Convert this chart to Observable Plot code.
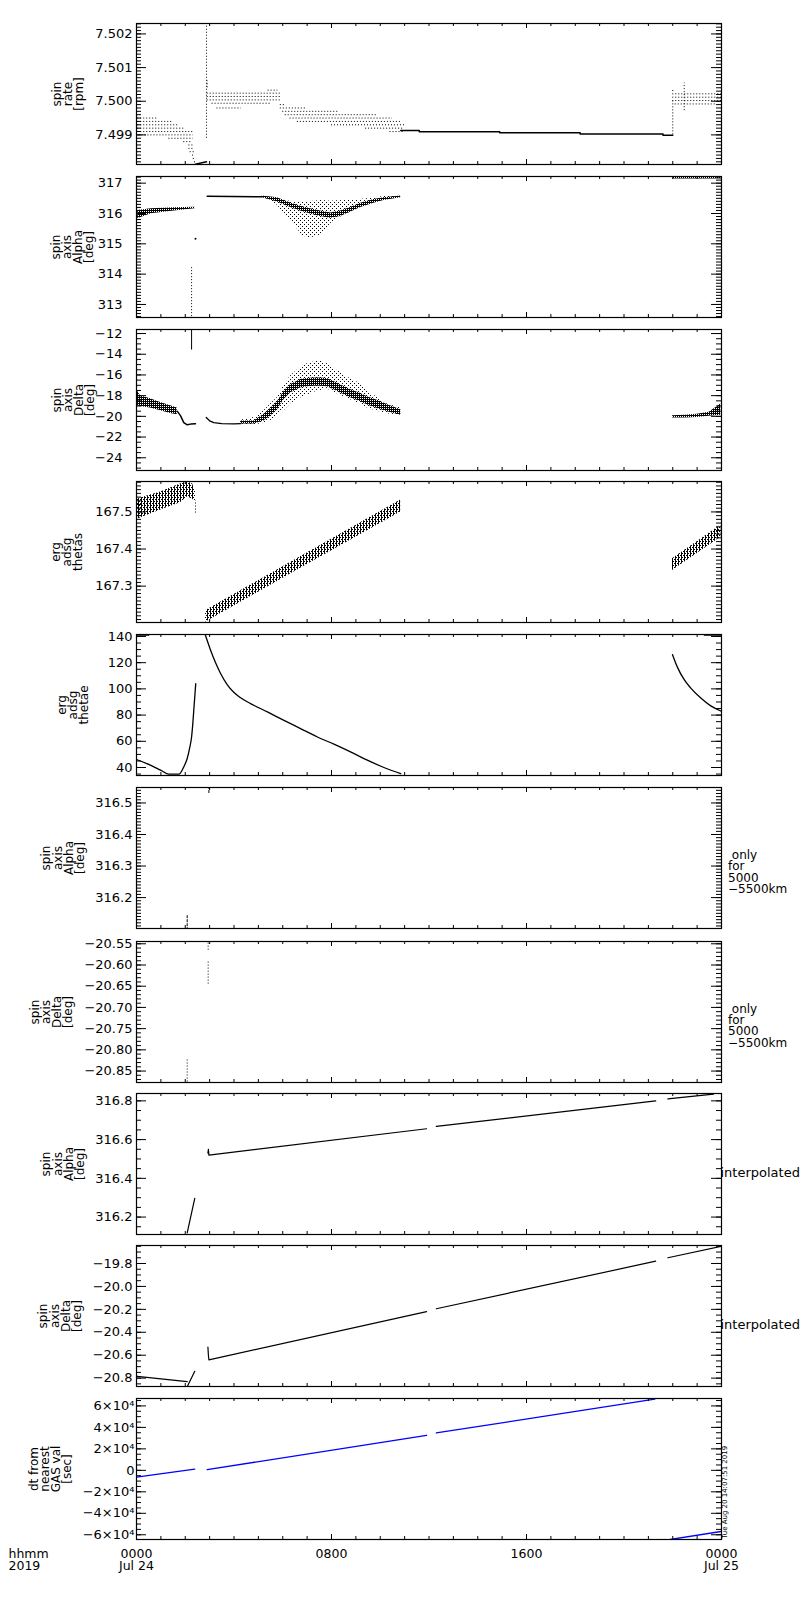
<!DOCTYPE html>
<html><head><meta charset="utf-8">
<script src="https://cdn.jsdelivr.net/npm/d3@7"></script>
<script src="https://cdn.jsdelivr.net/npm/@observablehq/plot@0.6"></script>
<style>
body{margin:0;background:#fff;}
#wrap{position:relative;width:800px;height:1600px;}
</style></head><body>
<svg width="0" height="0" style="position:absolute">
<defs>
<pattern id="sparse" width="4" height="4" patternUnits="userSpaceOnUse">
<rect x="0" y="0" width="1" height="1" fill="#000"/><rect x="2" y="2" width="1" height="1" fill="#000"/>
</pattern>
<pattern id="dense" width="2" height="2" patternUnits="userSpaceOnUse">
<rect x="0" y="0" width="1" height="1" fill="#000"/><rect x="1" y="1" width="1" height="1" fill="#000"/><rect x="1" y="0" width="1" height="1" fill="#000"/>
</pattern>
<pattern id="hatch" width="3" height="4" patternUnits="userSpaceOnUse">
<rect x="0" y="0" width="1" height="4" fill="#000"/><rect x="1" y="0" width="1" height="1" fill="#000"/><rect x="2" y="2" width="1" height="1" fill="#000"/>
</pattern>
</defs></svg>
<div id="wrap"></div>
<script>
// ---------- shared time axis (hours after 0000 Jul 24 2019) ----------
const hoursMajor = [0, 8, 16, 24];
const hoursMinor = [0,1,2,3,4,5,6,7,8,9,10,11,12,13,14,15,16,17,18,19,20,21,22,23,24];
const hourTickLabels = ["0000\nJul 24", "0800", "1600", "0000\nJul 25"];
const dateLabel = "hhmm\n2019";
const stampText = "Tue Aug 20 14:07:51 2019";

// ---------- panel 1: spin rate ----------
const rateLabel = "spin\nrate\n[rpm]";
const rateDomain = [7.49812, 7.50231];
const rateTicks = [7.499, 7.500, 7.501, 7.502];
const rateLevelValue = [7.4995,7.4994,7.4993,7.4992,7.4991,7.4990,7.4989,7.4988,7.4987,7.4986,7.4985,7.4984,7.4983,7.4982,
  7.50033,7.50024,7.50014,7.50004,7.49994,7.4999,7.4998,7.4998,7.4997,7.4996,7.4995,7.4994,7.4993,7.4992,7.4991,
  7.50032,7.50022,7.50012,7.50002,7.49992];
const rateLevelStart = [0.05,0.05,0.05,0.05,0.05,0.1,1.33,1.94,2.15,2.15,2.2,2.3,2.33,2.38,
  5.4,2.9,2.9,2.9,3.1,5.9,3.3,5.9,6.0,6.1,6.3,6.6,8.0,9.4,10.4,
  22.0,22.0,22.0,22.0,22.1];
const rateLevelEnd = [0.85,1.47,1.74,1.94,2.33,2.33,2.33,2.3,2.35,2.38,2.4,2.4,2.42,2.45,
  5.8,5.9,5.9,5.9,5.5,6.1,4.3,7.0,8.3,9.9,10.5,10.9,11.0,11.0,11.0,
  22.1,24,24,24,23.8];
const rateLowHour = [2.42, 2.87];
const rateLowValue = [7.49813, 7.4982];
const rateStepHour = [10.84, 11.6, 14.9, 18.2, 21.6, 22.0];
const rateStepValue = [7.49913, 7.49909, 7.49906, 7.49903, 7.49899, 7.49899];
const rateSpikeHour = [2.87, 2.9, 22.0, 22.47];
const rateSpikeLow = [7.4989, 7.5004, 7.4990, 7.49972];
const rateSpikeHigh = [7.5025, 7.5006, 7.5000, 7.50054];

// ---------- panel 2: spin axis alpha ----------
const alphaLabel = "spin\naxis\nAlpha\n[deg]";
const alphaDomain = [312.57, 317.22];
const alphaTicks = [313, 314, 315, 316, 317];
const alphaLeftHour = [0.05, 0.6, 1.55, 2.4];
const alphaLeftLow = [315.83, 315.99, 316.08, 316.16];
const alphaLeftHigh = [316.10, 316.16, 316.19, 316.21];
const alphaDotHour = [2.42];
const alphaDotValue = [315.17];
const alphaDropHour = [2.26];
const alphaDropLow = [312.4];
const alphaDropHigh = [314.25];
const alphaFlatHour = [2.9, 5.16];
const alphaFlatValue = [316.57, 316.55];
const alphaCloudHour = [5.16,5.5,5.78,6.05,6.32,6.59,6.8,7.0,7.28,7.55,7.76,7.96,8.24,8.65,9.06,9.47,10.15,10.84];
const alphaCloudHigh = [316.56,316.53,316.50,316.43,316.40,316.38,316.38,316.39,316.40,316.43,316.42,316.40,316.42,316.43,316.45,316.49,316.56,316.6];
const alphaCloudLow = [316.54,316.43,316.27,315.99,315.77,315.5,315.28,315.2,315.22,315.28,315.44,315.66,315.83,315.99,316.21,316.32,316.49,316.56];
const alphaCoreHour = [5.16,5.78,6.32,6.73,7.14,7.55,7.96,8.37,8.78,9.2,9.74,10.15,10.84];
const alphaCoreLow = [316.52,316.38,316.2,316.08,315.98,315.9,315.84,315.9,316.04,316.2,316.34,316.43,316.52];
const alphaCoreHigh = [316.58,316.52,316.35,316.24,316.16,316.08,316.02,316.08,316.2,316.34,316.46,316.52,316.58];
const alphaRightHour = [22.0, 24];
const alphaRightLow = [317.14, 317.14];
const alphaRightHigh = [317.25, 317.25];

// ---------- panel 3: spin axis delta ----------
const deltaLabel = "spin\naxis\nDelta\n[deg]";
const deltaDomain = [-25.23, -11.61];
const deltaTicks = [-24, -22, -20, -18, -16, -14, -12];
const deltaLeftHour = [0.03, 0.16, 0.57, 0.99, 1.4, 1.67];
const deltaLeftHigh = [-17.5, -18.0, -18.3, -18.65, -18.97, -19.2];
const deltaLeftLow = [-19.0, -19.05, -19.2, -19.46, -19.72, -19.85];
const deltaDropHour = [1.67, 1.81, 1.94, 2.08, 2.22, 2.42];
const deltaDropValue = [-19.5, -19.95, -20.6, -20.82, -20.75, -20.72];
const deltaSpikeHour = [2.26];
const deltaSpikeLow = [-13.6];
const deltaSpikeHigh = [-11.4];
const deltaMidHour = [2.86, 3.0, 3.17, 3.5, 4.0, 4.27];
const deltaMidValue = [-20.11, -20.43, -20.6, -20.7, -20.72, -20.7];
const deltaCloudHour = [4.27,4.82,5.23,5.5,5.78,6.05,6.32,6.73,7.0,7.28,7.55,7.83,8.1,8.37,8.78,9.2,9.47,9.88,10.29,10.84];
const deltaCloudHigh = [-20.37,-20.11,-19.46,-18.81,-18.17,-17.0,-16.1,-15.25,-14.92,-14.76,-14.6,-14.92,-15.4,-15.73,-16.38,-16.86,-17.52,-18.17,-18.81,-19.2];
const deltaCloudLow = [-20.76,-20.82,-20.69,-20.43,-19.95,-19.46,-18.81,-18.23,-17.95,-17.68,-17.5,-17.35,-17.68,-17.95,-18.4,-18.8,-19.2,-19.5,-19.75,-19.95];
const deltaCoreLow = [-20.75,-20.75,-20.45,-20.0,-19.35,-18.4,-17.75,-17.25,-17.15,-17.1,-17.1,-17.15,-17.43,-17.75,-18.2,-18.6,-18.9,-19.25,-19.55,-19.9];
const deltaCoreHigh = [-20.45,-20.45,-19.8,-19.25,-18.6,-17.6,-16.95,-16.45,-16.35,-16.3,-16.3,-16.35,-16.63,-16.95,-17.4,-17.8,-18.1,-18.45,-18.85,-19.35];
const deltaRightHour = [21.99, 22.5, 23.0, 23.5, 23.97];
const deltaRightHigh = [-19.95, -19.9, -19.8, -19.6, -18.8];
const deltaRightLow = [-20.17, -20.15, -20.1, -20.0, -19.9];

// ---------- panel 4: erg adsg thetas ----------
const thetasLabel = "erg\nadsg\nthetas";
const thetasDomain = [167.202, 167.582];
const thetasTicks = [167.3, 167.4, 167.5];
const thetasLeftHour = [0.03, 0.99, 1.8, 2.08, 2.3, 2.42];
const thetasLeftHigh = [167.535, 167.554, 167.575, 167.582, 167.575, 167.555];
const thetasLeftLow = [167.48, 167.505, 167.525, 167.54, 167.535, 167.525];
const thetasTailHour = [2.42];
const thetasTailLow = [167.497];
const thetasTailHigh = [167.53];
const thetasMainHour = [2.83, 6.73, 10.84];
const thetasMainHigh = [167.234, 167.379, 167.532];
const thetasMainLow = [167.203, 167.348, 167.5];
const thetasRightHour = [21.99, 23.97];
const thetasRightHigh = [167.374, 167.464];
const thetasRightLow = [167.342, 167.432];

// ---------- panel 5: erg adsg thetae ----------
const thetaeLabel = "erg\nadsg\nthetae";
const thetaeDomain = [33.9, 141.5];
const thetaeTicks = [40, 60, 80, 100, 120, 140];
const thetaeHour = [0, 0.5,
  0,0.57,0.99,1.33,1.74,1.94,2.08,2.19,2.26,2.31,2.35,2.39,2.43,
  2.83,3.04,3.24,3.45,3.72,3.99,4.24,4.68,5.37,6.05,6.73,7.42,8.1,8.78,9.47,10.15,10.84,
  21.99,22.19,22.47,22.74,23.15,23.56,23.97,
  23.3, 24];
const thetaeValue = [141.0, 141.0,
  46.1,41.8,38.0,34.9,34.9,40.5,46.9,55.7,63.3,73.5,83.7,93.8,104,
  140.8,129.5,120.1,111.7,103.3,97.4,93.6,88.8,82.4,76.0,69.7,63.3,57.8,51.9,45.6,40.0,35.3,
  126.1,116.6,107.0,100.6,93.0,87.0,83.1,
  141.0, 141.0];
const thetaeSeg = [0,0, 1,1,1,1,1,1,1,1,1,1,1,1,1, 2,2,2,2,2,2,2,2,2,2,2,2,2,2,2,2,2, 3,3,3,3,3,3,3, 4,4];

// ---------- panel 6: alpha 5000-5500 km ----------
const alphaRangeLabel = "spin\naxis\nAlpha\n[deg]";
const alphaRangeDomain = [316.102, 316.549];
const alphaRangeTicks = [316.2, 316.3, 316.4, 316.5];
const alphaRangeHour = [2.97, 2.08];
const alphaRangeLow = [316.53, 316.095];
const alphaRangeHigh = [316.56, 316.143];
const rangeNote = "\u00a0only\nfor\n5000\n\u22125500km";

// ---------- panel 7: delta 5000-5500 km ----------
const deltaRangeLabel = "spin\naxis\nDelta\n[deg]";
const deltaRangeDomain = [-20.877, -20.5446];
const deltaRangeTicks = [-20.85, -20.80, -20.75, -20.70, -20.65, -20.60, -20.55];
const deltaRangeHour = [2.94, 2.94, 2.08];
const deltaRangeLow = [-20.565, -20.645, -20.89];
const deltaRangeHigh = [-20.54, -20.59, -20.822];

// ---------- panel 8: interpolated alpha ----------
const interpAlphaLabel = "spin\naxis\nAlpha\n[deg]";
const interpAlphaDomain = [316.11, 316.838];
const interpAlphaTicks = [316.2, 316.4, 316.6, 316.8];
const interpAlphaHour = [2.08, 2.39, 2.93, 2.95, 2.97, 11.9, 12.3, 21.3, 21.8, 23.67];
const interpAlphaValue = [316.118, 316.297, 316.53, 316.55, 316.52, 316.656, 316.668, 316.80, 316.81, 316.835];
const interpAlphaSeg = [0,0,1,1,1,1,2,2,3,3];
const interpNote = "interpolated";

// ---------- panel 9: interpolated delta ----------
const interpDeltaLabel = "spin\naxis\nDelta\n[deg]";
const interpDeltaDomain = [-20.873, -19.643];
const interpDeltaTicks = [-20.8, -20.6, -20.4, -20.2, -20.0, -19.8];
const interpDeltaHour = [0.03, 2.08, 2.08, 2.39, 2.93, 2.95, 2.97, 11.9, 12.3, 21.3, 21.8, 24];
const interpDeltaValue = [-20.785, -20.83, -20.875, -20.74, -20.53, -20.6, -20.64, -20.22, -20.195, -19.78, -19.75, -19.65];
const interpDeltaSeg = [0,0,1,1,2,2,2,2,3,3,4,4];

// ---------- panel 10: dt from nearest GAS value ----------
const dtLabel = "dt from\nnearest\nGAS val\n[sec]";
const dtDomain = [-64400, 66900];
const dtTicks = [-60000, -40000, -20000, 0, 20000, 40000, 60000];
const dtHour = [0, 2.39, 2.9, 11.9, 12.3, 21.26, 21.9, 24];
const dtValue = [-6250, 1200, 650, 32650, 34800, 66300, -64400, -56900];
const dtSeg = [0,0,1,1,2,2,3,3];

// ---------- drawing ----------
const wrap = document.getElementById("wrap");
const W = 800, ML = 136, MR = 79, FH = 141, FW = W - ML - MR;
const FONT = "DejaVu Sans, sans-serif";
const num = (p) => d3.format("." + p + "f");
const dotted = {stroke: "black", strokeWidth: 1, strokeDasharray: "1,2", clip: true};

function panel({top, domain, ticks, minor, fmt, pad, label, labelX, marks, mb = 4, extra = []}) {
  const mt = 4;
  const lo = Math.ceil(domain[0] / minor - 1e-6), hi = Math.floor(domain[1] / minor + 1e-6);
  const minorTicks = d3.range(lo, hi + 1).map(i => i * minor);
  const svg = Plot.plot({
    width: W, height: FH + mt + mb,
    marginLeft: ML, marginRight: MR, marginTop: mt, marginBottom: mb,
    x: {domain: [0, 24], axis: extra.hasX ? undefined : null},
    y: {domain},
    style: {fontFamily: FONT, fontSize: "13px", color: "black", background: "transparent", overflow: "visible"},
    marks: [
      ...marks,
      Plot.tickX(hoursMinor, {x: d => d, insetTop: FH - 3, stroke: "black"}),
      Plot.tickX(hoursMajor, {x: d => d, insetTop: FH - 5, stroke: "black"}),
      Plot.tickX(hoursMinor, {x: d => d, insetBottom: FH - 3, stroke: "black"}),
      Plot.tickX(hoursMajor, {x: d => d, insetBottom: FH - 5, stroke: "black"}),
      Plot.tickY(minorTicks, {y: d => d, insetRight: FW - 5, stroke: "black"}),
      Plot.tickY(ticks, {y: d => d, insetRight: FW - 10, stroke: "black"}),
      Plot.tickY(minorTicks, {y: d => d, insetLeft: FW - 5, stroke: "black"}),
      Plot.tickY(ticks, {y: d => d, insetLeft: FW - 10, stroke: "black"}),
      Plot.axisY(ticks, {tickSize: 0, tickPadding: pad, tickFormat: fmt, label: null, fontSize: 13}),
      Plot.text([label], {frameAnchor: "left", dx: labelX - ML, rotate: -90, lineHeight: 0.92, fontSize: 12, textAnchor: "middle", lineAnchor: "middle"}),
      Plot.frame({stroke: "black", strokeWidth: 1.2}),
      ...(extra.marks || [])
    ]
  });
  svg.style.position = "absolute";
  svg.style.left = "0px";
  svg.style.top = (top - mt) + "px";
  wrap.appendChild(svg);
}

// 1
panel({top: 23, domain: rateDomain, ticks: rateTicks, minor: 0.0001, fmt: num(3), pad: 4, label: rateLabel, labelX: 68,
  marks: [
    Plot.ruleY(rateLevelValue, {y: rateLevelValue, x1: rateLevelStart, x2: rateLevelEnd, ...dotted}),
    Plot.line(rateLowHour, {x: rateLowHour, y: rateLowValue, stroke: "black", clip: true}),
    Plot.line(rateStepHour, {x: rateStepHour, y: rateStepValue, stroke: "black", curve: "step-after", clip: true}),
    Plot.ruleX(rateSpikeHour, {x: rateSpikeHour, y1: rateSpikeLow, y2: rateSpikeHigh, ...dotted})
  ]});
// 2
panel({top: 176, domain: alphaDomain, ticks: alphaTicks, minor: 0.1, fmt: num(0), pad: 14, label: alphaLabel, labelX: 72.5,
  marks: [
    Plot.areaY(alphaLeftHour, {x: alphaLeftHour, y1: alphaLeftLow, y2: alphaLeftHigh, fill: "url(#dense)", clip: true}),
    Plot.dot(alphaDotHour, {x: alphaDotHour, y: alphaDotValue, r: 1, fill: "black", stroke: null}),
    Plot.ruleX(alphaDropHour, {x: alphaDropHour, y1: alphaDropLow, y2: alphaDropHigh, ...dotted}),
    Plot.line(alphaFlatHour, {x: alphaFlatHour, y: alphaFlatValue, stroke: "black", strokeWidth: 1.5, clip: true}),
    Plot.areaY(alphaCloudHour, {x: alphaCloudHour, y1: alphaCloudLow, y2: alphaCloudHigh, fill: "url(#sparse)", clip: true}),
    Plot.areaY(alphaCoreHour, {x: alphaCoreHour, y1: alphaCoreLow, y2: alphaCoreHigh, fill: "url(#dense)", clip: true}),
    Plot.areaY(alphaRightHour, {x: alphaRightHour, y1: alphaRightLow, y2: alphaRightHigh, fill: "url(#dense)", clip: true})
  ]});
// 3
panel({top: 329, domain: deltaDomain, ticks: deltaTicks, minor: 0.5, fmt: num(0), pad: 14, label: deltaLabel, labelX: 73.5,
  marks: [
    Plot.areaY(deltaLeftHour, {x: deltaLeftHour, y1: deltaLeftLow, y2: deltaLeftHigh, fill: "url(#dense)", clip: true}),
    Plot.line(deltaDropHour, {x: deltaDropHour, y: deltaDropValue, stroke: "black", clip: true}),
    Plot.ruleX(deltaSpikeHour, {x: deltaSpikeHour, y1: deltaSpikeLow, y2: deltaSpikeHigh, stroke: "black", clip: true}),
    Plot.line(deltaMidHour, {x: deltaMidHour, y: deltaMidValue, stroke: "black", strokeWidth: 1.3, clip: true}),
    Plot.areaY(deltaCloudHour, {x: deltaCloudHour, y1: deltaCloudLow, y2: deltaCloudHigh, fill: "url(#sparse)", clip: true}),
    Plot.areaY(deltaCloudHour, {x: deltaCloudHour, y1: deltaCoreLow, y2: deltaCoreHigh, fill: "url(#dense)", clip: true}),
    Plot.areaY(deltaRightHour, {x: deltaRightHour, y1: deltaRightLow, y2: deltaRightHigh, fill: "url(#dense)", clip: true})
  ]});
// 4
panel({top: 481, domain: thetasDomain, ticks: thetasTicks, minor: 0.01, fmt: num(1), pad: 4, label: thetasLabel, labelX: 67,
  marks: [
    Plot.areaY(thetasLeftHour, {x: thetasLeftHour, y1: thetasLeftLow, y2: thetasLeftHigh, fill: "url(#hatch)", clip: true}),
    Plot.ruleX(thetasTailHour, {x: thetasTailHour, y1: thetasTailLow, y2: thetasTailHigh, ...dotted}),
    Plot.areaY(thetasMainHour, {x: thetasMainHour, y1: thetasMainLow, y2: thetasMainHigh, fill: "url(#hatch)", clip: true}),
    Plot.areaY(thetasRightHour, {x: thetasRightHour, y1: thetasRightLow, y2: thetasRightHigh, fill: "url(#hatch)", clip: true})
  ]});
// 5
panel({top: 634, domain: thetaeDomain, ticks: thetaeTicks, minor: 5, fmt: num(0), pad: 4, label: thetaeLabel, labelX: 72.5,
  marks: [
    Plot.line(thetaeHour, {x: thetaeHour, y: thetaeValue, z: thetaeSeg, stroke: "black", strokeWidth: 1.3, curve: "monotone-x", clip: true})
  ]});
// 6
panel({top: 787, domain: alphaRangeDomain, ticks: alphaRangeTicks, minor: 0.01, fmt: num(1), pad: 4, label: alphaRangeLabel, labelX: 63,
  marks: [
    Plot.ruleX(alphaRangeHour, {x: alphaRangeHour, y1: alphaRangeLow, y2: alphaRangeHigh, stroke: "black", strokeDasharray: "3,1", clip: true})
  ],
  extra: {marks: [Plot.text([rangeNote], {frameAnchor: "right", dx: 6.5, dy: 14.5, textAnchor: "start", lineAnchor: "middle", lineHeight: 0.95, fontSize: 12})]}});
// 7
panel({top: 941, domain: deltaRangeDomain, ticks: deltaRangeTicks, minor: 0.01, fmt: num(2), pad: 4, label: deltaRangeLabel, labelX: 51.5,
  marks: [
    Plot.ruleX(deltaRangeHour, {x: deltaRangeHour, y1: deltaRangeLow, y2: deltaRangeHigh, ...dotted})
  ],
  extra: {marks: [Plot.text([rangeNote], {frameAnchor: "right", dx: 6.5, dy: 14, textAnchor: "start", lineAnchor: "middle", lineHeight: 0.95, fontSize: 12})]}});
// 8
panel({top: 1093, domain: interpAlphaDomain, ticks: interpAlphaTicks, minor: 0.05, fmt: num(1), pad: 4, label: interpAlphaLabel, labelX: 63,
  marks: [
    Plot.line(interpAlphaHour, {x: interpAlphaHour, y: interpAlphaValue, z: interpAlphaSeg, stroke: "black", strokeWidth: 1.2, clip: true})
  ],
  extra: {marks: [Plot.text([interpNote], {frameAnchor: "right", dx: -1, dy: 9, textAnchor: "start", fontSize: 13})]}});
// 9
panel({top: 1245, domain: interpDeltaDomain, ticks: interpDeltaTicks, minor: 0.05, fmt: num(1), pad: 4, label: interpDeltaLabel, labelX: 60,
  marks: [
    Plot.line(interpDeltaHour, {x: interpDeltaHour, y: interpDeltaValue, z: interpDeltaSeg, stroke: "black", strokeWidth: 1.2, clip: true})
  ],
  extra: {marks: [Plot.text([interpNote], {frameAnchor: "right", dx: -1, dy: 9, textAnchor: "start", fontSize: 13})]}});
// 10
const dtFormat = d => d === 0 ? "0" : (d < 0 ? "\u2212" : "") + Math.abs(d / 1e4) + "\u00d710\u2074";
panel({top: 1398, domain: dtDomain, ticks: dtTicks, minor: 5000, fmt: dtFormat, pad: 2, label: dtLabel, labelX: 50.5, mb: 45,
  marks: [
    Plot.line(dtHour, {x: dtHour, y: dtValue, z: dtSeg, stroke: "#0000ff", strokeWidth: 1.3, clip: true})
  ],
  extra: {hasX: true, marks: [
    Plot.axisX(hoursMajor, {tickSize: 0, tickPadding: 10, tickFormat: d => hourTickLabels[hoursMajor.indexOf(d)], label: null, lineHeight: 0.95, fontSize: 12.5}),
    Plot.text([dateLabel], {frameAnchor: "bottom-left", dx: 8 - ML, dy: 10, textAnchor: "start", lineAnchor: "top", lineHeight: 0.95, fontSize: 12.5}),
    Plot.text([stampText], {frameAnchor: "bottom-right", dx: 3, dy: -1, rotate: -90, textAnchor: "start", lineAnchor: "middle", fontSize: 7})
  ]}});
</script>
</body></html>
